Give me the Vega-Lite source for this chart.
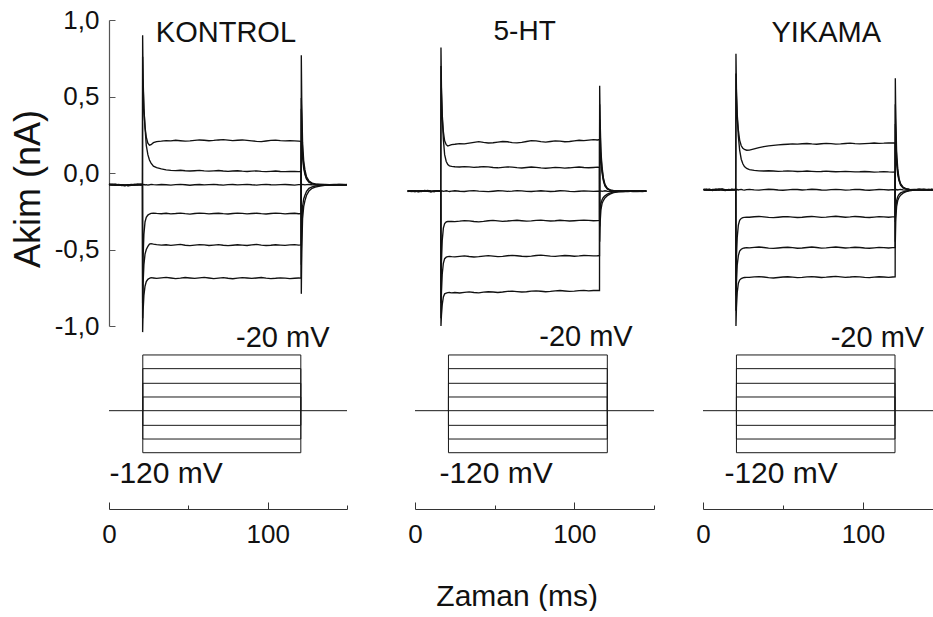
{
  "$schema": "https://vega.github.io/schema/vega-lite/v6.json",
  "background": "white",
  "padding": {"left": 10, "top": 7, "right": 0, "bottom": 0},
  "config": {
    "font": "Liberation Sans",
    "view": {"stroke": null},
    "axis": {"grid": false, "domainColor": "#333", "tickColor": "#333", "domainWidth": 1, "tickWidth": 1, "labelColor": "#111", "titleColor": "#111", "labelFont": "Liberation Sans", "titleFont": "Liberation Sans", "titleFontWeight": "normal", "labelOverlap": false, "labelFlush": false, "labelBound": false},
    "text": {"font": "Liberation Sans", "color": "#111"}
  },
  "datasets": {
    "traces": [
      {"p":"K","t":0,"a":-0.073,"b":-0.078,"c":-0.075,"d":-0.072,"e":-0.079,"f":-0.076},
      {"p":"K","t":2,"a":-0.077,"b":-0.074,"c":-0.079,"d":-0.076,"e":-0.073,"f":-0.078},
      {"p":"K","t":4,"a":-0.08,"b":-0.077,"c":-0.076,"d":-0.079,"e":-0.075,"f":-0.073},
      {"p":"K","t":6,"a":-0.076,"b":-0.081,"c":-0.078,"d":-0.074,"e":-0.077,"f":-0.08},
      {"p":"K","t":8,"a":-0.079,"b":-0.076,"c":-0.082,"d":-0.078,"e":-0.08,"f":-0.077},
      {"p":"K","t":10,"a":-0.083,"b":-0.079,"c":-0.08,"d":-0.082,"e":-0.078,"f":-0.081},
      {"p":"K","t":12,"a":-0.078,"b":-0.082,"c":-0.077,"d":-0.079,"e":-0.083,"f":-0.08},
      {"p":"K","t":14,"a":-0.075,"b":-0.078,"c":-0.079,"d":-0.076,"e":-0.08,"f":-0.077},
      {"p":"K","t":16,"a":-0.077,"b":-0.074,"c":-0.076,"d":-0.079,"e":-0.075,"f":-0.078},
      {"p":"K","t":18,"a":-0.074,"b":-0.077,"c":-0.073,"d":-0.075,"e":-0.078,"f":-0.076},
      {"p":"K","t":20,"a":-0.076,"b":-0.073,"c":-0.077,"d":-0.074,"e":-0.075,"f":-0.079},
      {"p":"K","t":21.1,"a":-0.075,"b":-0.076,"c":-0.075,"d":-0.077,"e":-0.074,"f":-0.076},
      {"p":"K","t":21.2,"a":0.9,"b":0.76,"c":-0.076,"d":-0.85,"e":-0.95,"f":-1.04},
      {"p":"K","t":21.5,"a":0.62,"b":0.58,"c":-0.077,"d":-0.55,"e":-0.72,"f":-0.9},
      {"p":"K","t":22,"a":0.42,"b":0.42,"c":-0.075,"d":-0.4,"e":-0.6,"f":-0.8},
      {"p":"K","t":22.7,"a":0.3,"b":0.3,"c":-0.078,"d":-0.32,"e":-0.53,"f":-0.74},
      {"p":"K","t":23.5,"a":0.235,"b":0.18,"c":-0.076,"d":-0.29,"e":-0.5,"f":-0.71},
      {"p":"K","t":24.5,"a":0.195,"b":0.12,"c":-0.079,"d":-0.275,"e":-0.48,"f":-0.695},
      {"p":"K","t":25.5,"a":0.182,"b":0.085,"c":-0.077,"d":-0.268,"e":-0.465,"f":-0.688},
      {"p":"K","t":26.5,"a":0.185,"b":0.065,"c":-0.074,"d":-0.264,"e":-0.462,"f":-0.684},
      {"p":"K","t":28,"a":0.198,"b":0.045,"c":-0.076,"d":-0.262,"e":-0.465,"f":-0.686},
      {"p":"K","t":30,"a":0.205,"b":0.035,"c":-0.078,"d":-0.264,"e":-0.468,"f":-0.689},
      {"p":"K","t":33,"a":0.208,"b":0.027,"c":-0.075,"d":-0.266,"e":-0.471,"f":-0.685},
      {"p":"K","t":36,"a":0.212,"b":0.02,"c":-0.077,"d":-0.263,"e":-0.469,"f":-0.682},
      {"p":"K","t":39,"a":0.21,"b":0.017,"c":-0.079,"d":-0.267,"e":-0.473,"f":-0.686},
      {"p":"K","t":42,"a":0.214,"b":0.016,"c":-0.076,"d":-0.265,"e":-0.47,"f":-0.69},
      {"p":"K","t":45,"a":0.211,"b":0.018,"c":-0.074,"d":-0.262,"e":-0.467,"f":-0.687},
      {"p":"K","t":48,"a":0.208,"b":0.015,"c":-0.077,"d":-0.266,"e":-0.472,"f":-0.683},
      {"p":"K","t":51,"a":0.21,"b":0.013,"c":-0.08,"d":-0.269,"e":-0.475,"f":-0.686},
      {"p":"K","t":54,"a":0.213,"b":0.015,"c":-0.077,"d":-0.265,"e":-0.471,"f":-0.689},
      {"p":"K","t":57,"a":0.216,"b":0.017,"c":-0.075,"d":-0.262,"e":-0.468,"f":-0.685},
      {"p":"K","t":60,"a":0.214,"b":0.014,"c":-0.078,"d":-0.264,"e":-0.47,"f":-0.682},
      {"p":"K","t":63,"a":0.211,"b":0.012,"c":-0.076,"d":-0.267,"e":-0.474,"f":-0.686},
      {"p":"K","t":66,"a":0.213,"b":0.014,"c":-0.074,"d":-0.265,"e":-0.471,"f":-0.69},
      {"p":"K","t":69,"a":0.216,"b":0.016,"c":-0.077,"d":-0.263,"e":-0.468,"f":-0.687},
      {"p":"K","t":72,"a":0.218,"b":0.013,"c":-0.079,"d":-0.266,"e":-0.472,"f":-0.684},
      {"p":"K","t":75,"a":0.215,"b":0.011,"c":-0.076,"d":-0.268,"e":-0.475,"f":-0.688},
      {"p":"K","t":78,"a":0.212,"b":0.013,"c":-0.075,"d":-0.265,"e":-0.472,"f":-0.691},
      {"p":"K","t":81,"a":0.214,"b":0.015,"c":-0.078,"d":-0.262,"e":-0.469,"f":-0.687},
      {"p":"K","t":84,"a":0.216,"b":0.012,"c":-0.076,"d":-0.264,"e":-0.471,"f":-0.684},
      {"p":"K","t":87,"a":0.213,"b":0.01,"c":-0.074,"d":-0.267,"e":-0.474,"f":-0.686},
      {"p":"K","t":90,"a":0.21,"b":0.012,"c":-0.077,"d":-0.265,"e":-0.47,"f":-0.689},
      {"p":"K","t":93,"a":0.207,"b":0.014,"c":-0.079,"d":-0.263,"e":-0.467,"f":-0.686},
      {"p":"K","t":96,"a":0.205,"b":0.011,"c":-0.076,"d":-0.266,"e":-0.471,"f":-0.683},
      {"p":"K","t":99,"a":0.209,"b":0.009,"c":-0.074,"d":-0.268,"e":-0.474,"f":-0.687},
      {"p":"K","t":102,"a":0.213,"b":0.011,"c":-0.077,"d":-0.265,"e":-0.472,"f":-0.69},
      {"p":"K","t":105,"a":0.215,"b":0.013,"c":-0.078,"d":-0.262,"e":-0.469,"f":-0.688},
      {"p":"K","t":108,"a":0.212,"b":0.01,"c":-0.076,"d":-0.264,"e":-0.471,"f":-0.685},
      {"p":"K","t":111,"a":0.21,"b":0.009,"c":-0.075,"d":-0.267,"e":-0.473,"f":-0.687},
      {"p":"K","t":114,"a":0.212,"b":0.011,"c":-0.077,"d":-0.265,"e":-0.47,"f":-0.69},
      {"p":"K","t":117,"a":0.21,"b":0.01,"c":-0.079,"d":-0.263,"e":-0.468,"f":-0.688},
      {"p":"K","t":119.5,"a":0.208,"b":0.009,"c":-0.076,"d":-0.266,"e":-0.471,"f":-0.686},
      {"p":"K","t":121.1,"a":0.207,"b":0.01,"c":-0.076,"d":-0.265,"e":-0.47,"f":-0.687},
      {"p":"K","t":121.2,"a":-0.79,"b":-0.6,"c":-0.076,"d":0.42,"e":0.49,"f":0.77},
      {"p":"K","t":121.5,"a":-0.5,"b":-0.36,"c":-0.077,"d":0.22,"e":0.3,"f":0.45},
      {"p":"K","t":122,"a":-0.3,"b":-0.22,"c":-0.075,"d":0.1,"e":0.14,"f":0.2},
      {"p":"K","t":122.7,"a":-0.22,"b":-0.17,"c":-0.076,"d":0.03,"e":0.05,"f":0.08},
      {"p":"K","t":123.5,"a":-0.18,"b":-0.145,"c":-0.078,"d":-0.01,"e":0,"f":0.02},
      {"p":"K","t":124.5,"a":-0.145,"b":-0.12,"c":-0.076,"d":-0.04,"e":-0.035,"f":-0.025},
      {"p":"K","t":126,"a":-0.118,"b":-0.1,"c":-0.075,"d":-0.06,"e":-0.057,"f":-0.052},
      {"p":"K","t":128,"a":-0.1,"b":-0.09,"c":-0.077,"d":-0.07,"e":-0.068,"f":-0.066},
      {"p":"K","t":130,"a":-0.092,"b":-0.085,"c":-0.078,"d":-0.074,"e":-0.073,"f":-0.072},
      {"p":"K","t":133,"a":-0.085,"b":-0.081,"c":-0.076,"d":-0.076,"e":-0.075,"f":-0.074},
      {"p":"K","t":136,"a":-0.081,"b":-0.078,"c":-0.075,"d":-0.078,"e":-0.077,"f":-0.076},
      {"p":"K","t":139,"a":-0.079,"b":-0.077,"c":-0.077,"d":-0.076,"e":-0.079,"f":-0.078},
      {"p":"K","t":142,"a":-0.077,"b":-0.079,"c":-0.078,"d":-0.074,"e":-0.076,"f":-0.08},
      {"p":"K","t":145,"a":-0.078,"b":-0.076,"c":-0.075,"d":-0.077,"e":-0.074,"f":-0.077},
      {"p":"K","t":148,"a":-0.076,"b":-0.078,"c":-0.077,"d":-0.079,"e":-0.077,"f":-0.075},
      {"p":"K","t":150,"a":-0.077,"b":-0.075,"c":-0.076,"d":-0.076,"e":-0.078,"f":-0.077},

      {"p":"H","t":-4.6,"a":-0.116,"b":-0.12,"c":-0.118,"d":-0.115,"e":-0.121,"f":-0.117},
      {"p":"H","t":-2,"a":-0.119,"b":-0.116,"c":-0.121,"d":-0.118,"e":-0.115,"f":-0.12},
      {"p":"H","t":0,"a":-0.122,"b":-0.119,"c":-0.117,"d":-0.121,"e":-0.118,"f":-0.115},
      {"p":"H","t":2,"a":-0.118,"b":-0.123,"c":-0.12,"d":-0.116,"e":-0.119,"f":-0.122},
      {"p":"H","t":4,"a":-0.115,"b":-0.118,"c":-0.116,"d":-0.119,"e":-0.122,"f":-0.118},
      {"p":"H","t":6,"a":-0.117,"b":-0.114,"c":-0.119,"d":-0.116,"e":-0.117,"f":-0.12},
      {"p":"H","t":8,"a":-0.12,"b":-0.117,"c":-0.115,"d":-0.118,"e":-0.114,"f":-0.116},
      {"p":"H","t":10,"a":-0.123,"b":-0.12,"c":-0.118,"d":-0.121,"e":-0.119,"f":-0.122},
      {"p":"H","t":12,"a":-0.119,"b":-0.122,"c":-0.121,"d":-0.117,"e":-0.12,"f":-0.118},
      {"p":"H","t":14,"a":-0.116,"b":-0.118,"c":-0.117,"d":-0.119,"e":-0.116,"f":-0.119},
      {"p":"H","t":16.2,"a":-0.118,"b":-0.117,"c":-0.119,"d":-0.116,"e":-0.118,"f":-0.117},
      {"p":"H","t":16.3,"a":0.82,"b":0.7,"c":-0.118,"d":-0.85,"e":-0.95,"f":-1.0},
      {"p":"H","t":16.6,"a":0.56,"b":0.52,"c":-0.119,"d":-0.58,"e":-0.78,"f":-0.93},
      {"p":"H","t":17.1,"a":0.38,"b":0.36,"c":-0.117,"d":-0.44,"e":-0.66,"f":-0.86},
      {"p":"H","t":17.8,"a":0.27,"b":0.22,"c":-0.12,"d":-0.36,"e":-0.59,"f":-0.81},
      {"p":"H","t":18.6,"a":0.21,"b":0.12,"c":-0.118,"d":-0.33,"e":-0.56,"f":-0.79},
      {"p":"H","t":19.6,"a":0.185,"b":0.075,"c":-0.116,"d":-0.32,"e":-0.55,"f":-0.785},
      {"p":"H","t":20.6,"a":0.176,"b":0.055,"c":-0.119,"d":-0.317,"e":-0.547,"f":-0.782},
      {"p":"H","t":21.6,"a":0.18,"b":0.047,"c":-0.121,"d":-0.316,"e":-0.545,"f":-0.781},
      {"p":"H","t":23,"a":0.186,"b":0.043,"c":-0.118,"d":-0.317,"e":-0.547,"f":-0.783},
      {"p":"H","t":25,"a":0.188,"b":0.041,"c":-0.116,"d":-0.318,"e":-0.548,"f":-0.781},
      {"p":"H","t":28,"a":0.192,"b":0.039,"c":-0.119,"d":-0.315,"e":-0.545,"f":-0.784},
      {"p":"H","t":31,"a":0.19,"b":0.042,"c":-0.121,"d":-0.311,"e":-0.542,"f":-0.78},
      {"p":"H","t":34,"a":0.195,"b":0.04,"c":-0.117,"d":-0.313,"e":-0.546,"f":-0.777},
      {"p":"H","t":37,"a":0.2,"b":0.037,"c":-0.115,"d":-0.317,"e":-0.549,"f":-0.781},
      {"p":"H","t":40,"a":0.205,"b":0.039,"c":-0.118,"d":-0.319,"e":-0.547,"f":-0.783},
      {"p":"H","t":43,"a":0.2,"b":0.042,"c":-0.12,"d":-0.316,"e":-0.543,"f":-0.779},
      {"p":"H","t":46,"a":0.196,"b":0.04,"c":-0.122,"d":-0.312,"e":-0.54,"f":-0.776},
      {"p":"H","t":49,"a":0.198,"b":0.036,"c":-0.119,"d":-0.31,"e":-0.543,"f":-0.778},
      {"p":"H","t":52,"a":0.202,"b":0.034,"c":-0.116,"d":-0.313,"e":-0.547,"f":-0.781},
      {"p":"H","t":55,"a":0.206,"b":0.037,"c":-0.117,"d":-0.316,"e":-0.545,"f":-0.778},
      {"p":"H","t":58,"a":0.204,"b":0.04,"c":-0.12,"d":-0.314,"e":-0.541,"f":-0.774},
      {"p":"H","t":61,"a":0.199,"b":0.038,"c":-0.118,"d":-0.311,"e":-0.538,"f":-0.772},
      {"p":"H","t":64,"a":0.197,"b":0.035,"c":-0.115,"d":-0.309,"e":-0.541,"f":-0.775},
      {"p":"H","t":67,"a":0.2,"b":0.033,"c":-0.117,"d":-0.312,"e":-0.544,"f":-0.778},
      {"p":"H","t":70,"a":0.206,"b":0.036,"c":-0.12,"d":-0.315,"e":-0.546,"f":-0.776},
      {"p":"H","t":73,"a":0.212,"b":0.039,"c":-0.121,"d":-0.313,"e":-0.543,"f":-0.772},
      {"p":"H","t":76,"a":0.21,"b":0.037,"c":-0.118,"d":-0.31,"e":-0.539,"f":-0.77},
      {"p":"H","t":79,"a":0.205,"b":0.033,"c":-0.116,"d":-0.308,"e":-0.537,"f":-0.773},
      {"p":"H","t":82,"a":0.202,"b":0.031,"c":-0.118,"d":-0.311,"e":-0.54,"f":-0.776},
      {"p":"H","t":85,"a":0.206,"b":0.034,"c":-0.121,"d":-0.314,"e":-0.543,"f":-0.774},
      {"p":"H","t":88,"a":0.21,"b":0.037,"c":-0.119,"d":-0.312,"e":-0.545,"f":-0.77},
      {"p":"H","t":91,"a":0.208,"b":0.035,"c":-0.116,"d":-0.309,"e":-0.542,"f":-0.768},
      {"p":"H","t":94,"a":0.204,"b":0.032,"c":-0.117,"d":-0.311,"e":-0.539,"f":-0.771},
      {"p":"H","t":97,"a":0.206,"b":0.034,"c":-0.12,"d":-0.314,"e":-0.541,"f":-0.774},
      {"p":"H","t":100,"a":0.21,"b":0.037,"c":-0.122,"d":-0.312,"e":-0.544,"f":-0.772},
      {"p":"H","t":103,"a":0.214,"b":0.039,"c":-0.119,"d":-0.31,"e":-0.542,"f":-0.769},
      {"p":"H","t":106,"a":0.212,"b":0.036,"c":-0.117,"d":-0.308,"e":-0.539,"f":-0.767},
      {"p":"H","t":109,"a":0.215,"b":0.034,"c":-0.118,"d":-0.31,"e":-0.54,"f":-0.77},
      {"p":"H","t":112,"a":0.218,"b":0.036,"c":-0.12,"d":-0.312,"e":-0.542,"f":-0.768},
      {"p":"H","t":114.5,"a":0.216,"b":0.038,"c":-0.118,"d":-0.311,"e":-0.541,"f":-0.767},
      {"p":"H","t":115.8,"a":0.218,"b":0.037,"c":-0.119,"d":-0.31,"e":-0.54,"f":-0.768},
      {"p":"H","t":115.9,"a":-0.45,"b":-0.35,"c":-0.118,"d":0.35,"e":0.45,"f":0.57},
      {"p":"H","t":116.2,"a":-0.32,"b":-0.26,"c":-0.119,"d":0.2,"e":0.27,"f":0.34},
      {"p":"H","t":116.7,"a":-0.24,"b":-0.2,"c":-0.117,"d":0.07,"e":0.11,"f":0.14},
      {"p":"H","t":117.4,"a":-0.2,"b":-0.175,"c":-0.12,"d":0,"e":0.02,"f":0.04},
      {"p":"H","t":118.2,"a":-0.18,"b":-0.16,"c":-0.118,"d":-0.05,"e":-0.04,"f":-0.03},
      {"p":"H","t":119.2,"a":-0.163,"b":-0.148,"c":-0.116,"d":-0.085,"e":-0.08,"f":-0.075},
      {"p":"H","t":120.7,"a":-0.148,"b":-0.138,"c":-0.119,"d":-0.105,"e":-0.102,"f":-0.1},
      {"p":"H","t":122.7,"a":-0.136,"b":-0.13,"c":-0.121,"d":-0.114,"e":-0.113,"f":-0.112},
      {"p":"H","t":124.7,"a":-0.128,"b":-0.124,"c":-0.118,"d":-0.117,"e":-0.116,"f":-0.116},
      {"p":"H","t":127.7,"a":-0.123,"b":-0.121,"c":-0.116,"d":-0.119,"e":-0.118,"f":-0.117},
      {"p":"H","t":130.7,"a":-0.12,"b":-0.119,"c":-0.118,"d":-0.121,"e":-0.117,"f":-0.119},
      {"p":"H","t":133.7,"a":-0.118,"b":-0.121,"c":-0.12,"d":-0.118,"e":-0.115,"f":-0.12},
      {"p":"H","t":136.7,"a":-0.121,"b":-0.118,"c":-0.117,"d":-0.116,"e":-0.119,"f":-0.117},
      {"p":"H","t":139.7,"a":-0.119,"b":-0.116,"c":-0.119,"d":-0.12,"e":-0.121,"f":-0.115},
      {"p":"H","t":142.7,"a":-0.116,"b":-0.12,"c":-0.121,"d":-0.117,"e":-0.118,"f":-0.118},
      {"p":"H","t":145.2,"a":-0.118,"b":-0.117,"c":-0.118,"d":-0.119,"e":-0.116,"f":-0.12},

      {"p":"Y","t":0.4,"a":-0.107,"b":-0.111,"c":-0.109,"d":-0.106,"e":-0.112,"f":-0.108},
      {"p":"Y","t":2,"a":-0.11,"b":-0.107,"c":-0.112,"d":-0.109,"e":-0.106,"f":-0.111},
      {"p":"Y","t":4,"a":-0.113,"b":-0.11,"c":-0.108,"d":-0.112,"e":-0.109,"f":-0.106},
      {"p":"Y","t":6,"a":-0.109,"b":-0.114,"c":-0.111,"d":-0.107,"e":-0.11,"f":-0.113},
      {"p":"Y","t":8,"a":-0.106,"b":-0.109,"c":-0.107,"d":-0.11,"e":-0.113,"f":-0.109},
      {"p":"Y","t":10,"a":-0.108,"b":-0.105,"c":-0.11,"d":-0.107,"e":-0.108,"f":-0.111},
      {"p":"Y","t":12,"a":-0.111,"b":-0.108,"c":-0.106,"d":-0.109,"e":-0.105,"f":-0.107},
      {"p":"Y","t":14,"a":-0.114,"b":-0.111,"c":-0.109,"d":-0.112,"e":-0.11,"f":-0.113},
      {"p":"Y","t":16,"a":-0.11,"b":-0.113,"c":-0.112,"d":-0.108,"e":-0.111,"f":-0.109},
      {"p":"Y","t":18,"a":-0.107,"b":-0.109,"c":-0.108,"d":-0.11,"e":-0.107,"f":-0.11},
      {"p":"Y","t":20.5,"a":-0.109,"b":-0.108,"c":-0.11,"d":-0.107,"e":-0.109,"f":-0.108},
      {"p":"Y","t":20.6,"a":0.78,"b":0.65,"c":-0.109,"d":-0.8,"e":-0.9,"f":-1.0},
      {"p":"Y","t":20.9,"a":0.55,"b":0.5,"c":-0.11,"d":-0.55,"e":-0.72,"f":-0.88},
      {"p":"Y","t":21.4,"a":0.38,"b":0.36,"c":-0.108,"d":-0.42,"e":-0.6,"f":-0.78},
      {"p":"Y","t":22.1,"a":0.28,"b":0.24,"c":-0.111,"d":-0.34,"e":-0.54,"f":-0.72},
      {"p":"Y","t":22.9,"a":0.215,"b":0.15,"c":-0.109,"d":-0.31,"e":-0.51,"f":-0.7},
      {"p":"Y","t":23.9,"a":0.178,"b":0.09,"c":-0.107,"d":-0.297,"e":-0.498,"f":-0.69},
      {"p":"Y","t":24.9,"a":0.162,"b":0.06,"c":-0.11,"d":-0.292,"e":-0.493,"f":-0.685},
      {"p":"Y","t":25.9,"a":0.154,"b":0.042,"c":-0.112,"d":-0.29,"e":-0.49,"f":-0.683},
      {"p":"Y","t":27.3,"a":0.149,"b":0.03,"c":-0.109,"d":-0.289,"e":-0.488,"f":-0.682},
      {"p":"Y","t":29,"a":0.15,"b":0.022,"c":-0.107,"d":-0.289,"e":-0.489,"f":-0.682},
      {"p":"Y","t":32,"a":0.158,"b":0.017,"c":-0.11,"d":-0.286,"e":-0.486,"f":-0.679},
      {"p":"Y","t":35,"a":0.166,"b":0.014,"c":-0.112,"d":-0.284,"e":-0.484,"f":-0.677},
      {"p":"Y","t":38,"a":0.172,"b":0.013,"c":-0.109,"d":-0.287,"e":-0.487,"f":-0.68},
      {"p":"Y","t":41,"a":0.177,"b":0.015,"c":-0.106,"d":-0.29,"e":-0.491,"f":-0.684},
      {"p":"Y","t":44,"a":0.181,"b":0.013,"c":-0.108,"d":-0.292,"e":-0.493,"f":-0.686},
      {"p":"Y","t":47,"a":0.184,"b":0.011,"c":-0.111,"d":-0.289,"e":-0.49,"f":-0.683},
      {"p":"Y","t":50,"a":0.186,"b":0.012,"c":-0.113,"d":-0.286,"e":-0.487,"f":-0.68},
      {"p":"Y","t":53,"a":0.188,"b":0.014,"c":-0.11,"d":-0.285,"e":-0.485,"f":-0.678},
      {"p":"Y","t":56,"a":0.19,"b":0.012,"c":-0.107,"d":-0.288,"e":-0.488,"f":-0.681},
      {"p":"Y","t":59,"a":0.189,"b":0.01,"c":-0.108,"d":-0.291,"e":-0.492,"f":-0.684},
      {"p":"Y","t":62,"a":0.191,"b":0.011,"c":-0.111,"d":-0.289,"e":-0.49,"f":-0.682},
      {"p":"Y","t":65,"a":0.193,"b":0.013,"c":-0.109,"d":-0.286,"e":-0.487,"f":-0.679},
      {"p":"Y","t":68,"a":0.19,"b":0.011,"c":-0.106,"d":-0.284,"e":-0.484,"f":-0.677},
      {"p":"Y","t":71,"a":0.188,"b":0.009,"c":-0.108,"d":-0.287,"e":-0.487,"f":-0.68},
      {"p":"Y","t":74,"a":0.191,"b":0.01,"c":-0.111,"d":-0.29,"e":-0.491,"f":-0.683},
      {"p":"Y","t":77,"a":0.194,"b":0.012,"c":-0.112,"d":-0.288,"e":-0.489,"f":-0.681},
      {"p":"Y","t":80,"a":0.192,"b":0.01,"c":-0.109,"d":-0.285,"e":-0.486,"f":-0.678},
      {"p":"Y","t":83,"a":0.189,"b":0.008,"c":-0.107,"d":-0.283,"e":-0.484,"f":-0.676},
      {"p":"Y","t":86,"a":0.19,"b":0.009,"c":-0.109,"d":-0.286,"e":-0.487,"f":-0.679},
      {"p":"Y","t":89,"a":0.193,"b":0.011,"c":-0.112,"d":-0.289,"e":-0.49,"f":-0.682},
      {"p":"Y","t":92,"a":0.195,"b":0.009,"c":-0.11,"d":-0.287,"e":-0.488,"f":-0.68},
      {"p":"Y","t":95,"a":0.192,"b":0.007,"c":-0.107,"d":-0.284,"e":-0.485,"f":-0.677},
      {"p":"Y","t":98,"a":0.19,"b":0.008,"c":-0.108,"d":-0.286,"e":-0.487,"f":-0.679},
      {"p":"Y","t":101,"a":0.192,"b":0.01,"c":-0.111,"d":-0.289,"e":-0.49,"f":-0.682},
      {"p":"Y","t":104,"a":0.194,"b":0.008,"c":-0.113,"d":-0.291,"e":-0.492,"f":-0.684},
      {"p":"Y","t":107,"a":0.196,"b":0.006,"c":-0.11,"d":-0.288,"e":-0.489,"f":-0.681},
      {"p":"Y","t":110,"a":0.194,"b":0.007,"c":-0.108,"d":-0.285,"e":-0.486,"f":-0.678},
      {"p":"Y","t":113,"a":0.195,"b":0.009,"c":-0.109,"d":-0.287,"e":-0.488,"f":-0.68},
      {"p":"Y","t":116,"a":0.197,"b":0.007,"c":-0.111,"d":-0.289,"e":-0.49,"f":-0.682},
      {"p":"Y","t":118.5,"a":0.196,"b":0.006,"c":-0.109,"d":-0.287,"e":-0.488,"f":-0.68},
      {"p":"Y","t":120.1,"a":0.197,"b":0.007,"c":-0.11,"d":-0.286,"e":-0.487,"f":-0.679},
      {"p":"Y","t":120.2,"a":-0.45,"b":-0.32,"c":-0.109,"d":0.32,"e":0.45,"f":0.62},
      {"p":"Y","t":120.5,"a":-0.3,"b":-0.24,"c":-0.11,"d":0.18,"e":0.26,"f":0.36},
      {"p":"Y","t":121,"a":-0.22,"b":-0.18,"c":-0.108,"d":0.06,"e":0.1,"f":0.14},
      {"p":"Y","t":121.7,"a":-0.18,"b":-0.155,"c":-0.111,"d":-0.01,"e":0.01,"f":0.03},
      {"p":"Y","t":122.5,"a":-0.16,"b":-0.14,"c":-0.109,"d":-0.05,"e":-0.045,"f":-0.035},
      {"p":"Y","t":123.5,"a":-0.145,"b":-0.13,"c":-0.107,"d":-0.08,"e":-0.075,"f":-0.07},
      {"p":"Y","t":125,"a":-0.132,"b":-0.124,"c":-0.11,"d":-0.097,"e":-0.095,"f":-0.093},
      {"p":"Y","t":127,"a":-0.122,"b":-0.118,"c":-0.112,"d":-0.105,"e":-0.104,"f":-0.103},
      {"p":"Y","t":129,"a":-0.116,"b":-0.114,"c":-0.109,"d":-0.108,"e":-0.107,"f":-0.107},
      {"p":"Y","t":132,"a":-0.112,"b":-0.111,"c":-0.107,"d":-0.11,"e":-0.109,"f":-0.11},
      {"p":"Y","t":135,"a":-0.11,"b":-0.108,"c":-0.11,"d":-0.112,"e":-0.106,"f":-0.108},
      {"p":"Y","t":138,"a":-0.108,"b":-0.111,"c":-0.112,"d":-0.109,"e":-0.11,"f":-0.106},
      {"p":"Y","t":141,"a":-0.111,"b":-0.109,"c":-0.108,"d":-0.107,"e":-0.112,"f":-0.11},
      {"p":"Y","t":143,"a":-0.109,"b":-0.106,"c":-0.11,"d":-0.11,"e":-0.108,"f":-0.112},
      {"p":"Y","t":145,"a":-0.107,"b":-0.11,"c":-0.109,"d":-0.108,"e":-0.111,"f":-0.109}
    ],
    "protocol": [
      {"p":"K","t":0,"t2":150,"v":-77,"v2":-77},
      {"p":"K","t":21.3,"t2":120.9,"v":-20,"v2":-20},
      {"p":"K","t":21.3,"t2":120.9,"v":-34,"v2":-34},
      {"p":"K","t":21.3,"t2":120.9,"v":-49,"v2":-49},
      {"p":"K","t":21.3,"t2":120.9,"v":-63,"v2":-63},
      {"p":"K","t":21.3,"t2":120.9,"v":-92,"v2":-92},
      {"p":"K","t":21.3,"t2":120.9,"v":-106,"v2":-106},
      {"p":"K","t":21.3,"t2":120.9,"v":-120,"v2":-120},
      {"p":"K","t":21.3,"t2":21.3,"v":-77,"v2":-20},
      {"p":"K","t":21.3,"t2":21.3,"v":-77,"v2":-34},
      {"p":"K","t":21.3,"t2":21.3,"v":-77,"v2":-49},
      {"p":"K","t":21.3,"t2":21.3,"v":-77,"v2":-63},
      {"p":"K","t":21.3,"t2":21.3,"v":-77,"v2":-92},
      {"p":"K","t":21.3,"t2":21.3,"v":-77,"v2":-106},
      {"p":"K","t":21.3,"t2":21.3,"v":-77,"v2":-120},
      {"p":"K","t":120.9,"t2":120.9,"v":-77,"v2":-20},
      {"p":"K","t":120.9,"t2":120.9,"v":-77,"v2":-34},
      {"p":"K","t":120.9,"t2":120.9,"v":-77,"v2":-49},
      {"p":"K","t":120.9,"t2":120.9,"v":-77,"v2":-63},
      {"p":"K","t":120.9,"t2":120.9,"v":-77,"v2":-92},
      {"p":"K","t":120.9,"t2":120.9,"v":-77,"v2":-106},
      {"p":"K","t":120.9,"t2":120.9,"v":-77,"v2":-120},

      {"p":"H","t":0,"t2":150,"v":-77,"v2":-77},
      {"p":"H","t":21,"t2":120.7,"v":-20,"v2":-20},
      {"p":"H","t":21,"t2":120.7,"v":-34,"v2":-34},
      {"p":"H","t":21,"t2":120.7,"v":-49,"v2":-49},
      {"p":"H","t":21,"t2":120.7,"v":-63,"v2":-63},
      {"p":"H","t":21,"t2":120.7,"v":-92,"v2":-92},
      {"p":"H","t":21,"t2":120.7,"v":-106,"v2":-106},
      {"p":"H","t":21,"t2":120.7,"v":-120,"v2":-120},
      {"p":"H","t":21,"t2":21,"v":-77,"v2":-20},
      {"p":"H","t":21,"t2":21,"v":-77,"v2":-34},
      {"p":"H","t":21,"t2":21,"v":-77,"v2":-49},
      {"p":"H","t":21,"t2":21,"v":-77,"v2":-63},
      {"p":"H","t":21,"t2":21,"v":-77,"v2":-92},
      {"p":"H","t":21,"t2":21,"v":-77,"v2":-106},
      {"p":"H","t":21,"t2":21,"v":-77,"v2":-120},
      {"p":"H","t":120.7,"t2":120.7,"v":-77,"v2":-20},
      {"p":"H","t":120.7,"t2":120.7,"v":-77,"v2":-34},
      {"p":"H","t":120.7,"t2":120.7,"v":-77,"v2":-49},
      {"p":"H","t":120.7,"t2":120.7,"v":-77,"v2":-63},
      {"p":"H","t":120.7,"t2":120.7,"v":-77,"v2":-92},
      {"p":"H","t":120.7,"t2":120.7,"v":-77,"v2":-106},
      {"p":"H","t":120.7,"t2":120.7,"v":-77,"v2":-120},

      {"p":"Y","t":0,"t2":145,"v":-77,"v2":-77},
      {"p":"Y","t":20.9,"t2":120,"v":-20,"v2":-20},
      {"p":"Y","t":20.9,"t2":120,"v":-34,"v2":-34},
      {"p":"Y","t":20.9,"t2":120,"v":-49,"v2":-49},
      {"p":"Y","t":20.9,"t2":120,"v":-63,"v2":-63},
      {"p":"Y","t":20.9,"t2":120,"v":-92,"v2":-92},
      {"p":"Y","t":20.9,"t2":120,"v":-106,"v2":-106},
      {"p":"Y","t":20.9,"t2":120,"v":-120,"v2":-120},
      {"p":"Y","t":20.9,"t2":20.9,"v":-77,"v2":-20},
      {"p":"Y","t":20.9,"t2":20.9,"v":-77,"v2":-34},
      {"p":"Y","t":20.9,"t2":20.9,"v":-77,"v2":-49},
      {"p":"Y","t":20.9,"t2":20.9,"v":-77,"v2":-63},
      {"p":"Y","t":20.9,"t2":20.9,"v":-77,"v2":-92},
      {"p":"Y","t":20.9,"t2":20.9,"v":-77,"v2":-106},
      {"p":"Y","t":20.9,"t2":20.9,"v":-77,"v2":-120},
      {"p":"Y","t":120,"t2":120,"v":-77,"v2":-20},
      {"p":"Y","t":120,"t2":120,"v":-77,"v2":-34},
      {"p":"Y","t":120,"t2":120,"v":-77,"v2":-49},
      {"p":"Y","t":120,"t2":120,"v":-77,"v2":-63},
      {"p":"Y","t":120,"t2":120,"v":-77,"v2":-92},
      {"p":"Y","t":120,"t2":120,"v":-77,"v2":-106},
      {"p":"Y","t":120,"t2":120,"v":-77,"v2":-120}
    ]
  },
  "spacing": 40,
  "hconcat": [
    {
      "bounds": "flush",
      "spacing": 6,
      "vconcat": [
        {
          "width": 238,
          "height": 306,
          "layer": [
            {
              "data": {"name": "traces"},
              "transform": [{"filter": "datum.p === 'K'"}, {"fold": ["a", "b", "c", "d", "e", "f"], "as": ["trace", "i"]}],
              "mark": {"type": "line", "color": "#111", "strokeWidth": 1.35},
              "encoding": {
                "x": {"field": "t", "type": "quantitative", "scale": {"domain": [0, 150], "nice": false, "zero": false}, "axis": null},
                "y": {"field": "i", "type": "quantitative", "scale": {"domain": [-1, 1], "nice": false, "zero": false},
                  "axis": {"values": [-1, -0.75, -0.5, -0.25, 0, 0.25, 0.5, 0.75, 1],
                    "labelExpr": "datum.value % 0.5 === 0 ? (datum.value < 0 ? '-' : '') + replace(format(abs(datum.value), '.1f'), '.', ',') : ''",
                    "domain": true, "ticks": true, "domainColor": "#555", "tickColor": "#555", "domainWidth": 1.2,
                    "tickSize": -6, "labelPadding": 16, "labelFontSize": 26,
                    "title": "Akim (nA)", "titleFontSize": 36, "titleX": -81, "titleY": 168.5, "titleAngle": 270, "titleBaseline": "middle", "titleAlign": "center"}},
                "detail": {"field": "trace", "type": "nominal"}
              }
            },
            {
              "data": {"values": [{"label": "KONTROL"}]},
              "mark": {"type": "text", "fontSize": 29, "align": "center", "baseline": "alphabetic"},
              "encoding": {"x": {"datum": 73.7}, "y": {"datum": 0.856}, "text": {"field": "label"}}
            }
          ]
        },
        {
          "width": 238,
          "height": 177,
          "layer": [
            {
              "data": {"name": "protocol"},
              "transform": [{"filter": "datum.p === 'K'"}],
              "mark": {"type": "rule", "color": "#1a1a1a", "strokeWidth": 1},
              "encoding": {
                "x": {"field": "t", "type": "quantitative", "scale": {"domain": [0, 150], "nice": false, "zero": false},
                  "axis": {"values": [0, 50, 100, 150], "labelExpr": "datum.value % 100 === 0 ? datum.label : ''",
                    "tickSize": {"condition": {"test": "datum.value % 100 === 0", "value": -7}, "value": -4},
                    "labelPadding": 19, "labelFontSize": 26, "title": null}},
                "x2": {"field": "t2"},
                "y": {"field": "v", "type": "quantitative", "scale": {"domain": [-177.6, 3.5], "nice": false, "zero": false}, "axis": null},
                "y2": {"field": "v2"}
              }
            },
            {
              "data": {"values": [{"label": "-20 mV"}]},
              "mark": {"type": "text", "fontSize": 29, "align": "center", "baseline": "alphabetic"},
              "encoding": {"x": {"datum": 109.5}, "y": {"datum": -11.5}, "text": {"field": "label"}}
            },
            {
              "data": {"values": [{"label": "-120 mV"}]},
              "mark": {"type": "text", "fontSize": 30, "align": "center", "baseline": "alphabetic"},
              "encoding": {"x": {"datum": 36}, "y": {"datum": -151.3}, "text": {"field": "label"}}
            }
          ]
        }
      ]
    },
    {
      "bounds": "flush",
      "spacing": 6,
      "vconcat": [
        {
          "width": 239,
          "height": 306,
          "layer": [
            {
              "data": {"name": "traces"},
              "transform": [{"filter": "datum.p === 'H'"}, {"fold": ["a", "b", "c", "d", "e", "f"], "as": ["trace", "i"]}],
              "mark": {"type": "line", "color": "#111", "strokeWidth": 1.35},
              "encoding": {
                "x": {"field": "t", "type": "quantitative", "scale": {"domain": [0, 150], "nice": false, "zero": false}, "axis": null},
                "y": {"field": "i", "type": "quantitative", "scale": {"domain": [-1, 1], "nice": false, "zero": false},
                  "axis": {"values": [1], "labelExpr": "'.'", "labelColor": "rgba(0,0,0,0)", "labelFontSize": 26, "labelPadding": 17, "ticks": false, "domain": false, "title": null}},
                "detail": {"field": "trace", "type": "nominal"}
              }
            },
            {
              "data": {"values": [{"label": "5-HT"}]},
              "mark": {"type": "text", "fontSize": 28, "align": "center", "baseline": "alphabetic"},
              "encoding": {"x": {"datum": 68.8}, "y": {"datum": 0.867}, "text": {"field": "label"}}
            }
          ]
        },
        {
          "width": 239,
          "height": 177,
          "layer": [
            {
              "data": {"name": "protocol"},
              "transform": [{"filter": "datum.p === 'H'"}],
              "mark": {"type": "rule", "color": "#1a1a1a", "strokeWidth": 1},
              "encoding": {
                "x": {"field": "t", "type": "quantitative", "scale": {"domain": [0, 150], "nice": false, "zero": false},
                  "axis": {"values": [0, 50, 100, 150], "labelExpr": "datum.value % 100 === 0 ? datum.label : ''",
                    "tickSize": {"condition": {"test": "datum.value % 100 === 0", "value": -7}, "value": -4},
                    "labelPadding": 19, "labelFontSize": 26,
                    "title": "Zaman (ms)", "titleFontSize": 30, "titleX": 101.7, "titleY": 96, "titleBaseline": "alphabetic", "titleAlign": "center"}},
                "x2": {"field": "t2"},
                "y": {"field": "v", "type": "quantitative", "scale": {"domain": [-177.6, 3.5], "nice": false, "zero": false}, "axis": null},
                "y2": {"field": "v2"}
              }
            },
            {
              "data": {"values": [{"label": "-20 mV"}]},
              "mark": {"type": "text", "fontSize": 29, "align": "center", "baseline": "alphabetic"},
              "encoding": {"x": {"datum": 107.3}, "y": {"datum": -10.5}, "text": {"field": "label"}}
            },
            {
              "data": {"values": [{"label": "-120 mV"}]},
              "mark": {"type": "text", "fontSize": 30, "align": "center", "baseline": "alphabetic"},
              "encoding": {"x": {"datum": 50.9}, "y": {"datum": -150.7}, "text": {"field": "label"}}
            }
          ]
        }
      ]
    },
    {
      "bounds": "flush",
      "spacing": 6,
      "vconcat": [
        {
          "width": 232,
          "height": 306,
          "layer": [
            {
              "data": {"name": "traces"},
              "transform": [{"filter": "datum.p === 'Y'"}, {"fold": ["a", "b", "c", "d", "e", "f"], "as": ["trace", "i"]}],
              "mark": {"type": "line", "color": "#111", "strokeWidth": 1.35},
              "encoding": {
                "x": {"field": "t", "type": "quantitative", "scale": {"domain": [0, 145], "nice": false, "zero": false}, "axis": null},
                "y": {"field": "i", "type": "quantitative", "scale": {"domain": [-1, 1], "nice": false, "zero": false},
                  "axis": {"values": [1], "labelExpr": "'.'", "labelColor": "rgba(0,0,0,0)", "labelFontSize": 26, "labelPadding": 0, "ticks": false, "domain": false, "title": null}},
                "detail": {"field": "trace", "type": "nominal"}
              }
            },
            {
              "data": {"values": [{"label": "YIKAMA"}]},
              "mark": {"type": "text", "fontSize": 29, "align": "center", "baseline": "alphabetic"},
              "encoding": {"x": {"datum": 77}, "y": {"datum": 0.856}, "text": {"field": "label"}}
            }
          ]
        },
        {
          "width": 232,
          "height": 177,
          "layer": [
            {
              "data": {"name": "protocol"},
              "transform": [{"filter": "datum.p === 'Y'"}],
              "mark": {"type": "rule", "color": "#1a1a1a", "strokeWidth": 1},
              "encoding": {
                "x": {"field": "t", "type": "quantitative", "scale": {"domain": [0, 145], "nice": false, "zero": false},
                  "axis": {"values": [0, 50, 100], "labelExpr": "datum.value % 100 === 0 ? datum.label : ''",
                    "tickSize": {"condition": {"test": "datum.value % 100 === 0", "value": -7}, "value": -4},
                    "labelPadding": 19, "labelFontSize": 26, "title": null}},
                "x2": {"field": "t2"},
                "y": {"field": "v", "type": "quantitative", "scale": {"domain": [-177.6, 3.5], "nice": false, "zero": false}, "axis": null},
                "y2": {"field": "v2"}
              }
            },
            {
              "data": {"values": [{"label": "-20 mV"}]},
              "mark": {"type": "text", "fontSize": 29, "align": "center", "baseline": "alphabetic"},
              "encoding": {"x": {"datum": 109}, "y": {"datum": -11.5}, "text": {"field": "label"}}
            },
            {
              "data": {"values": [{"label": "-120 mV"}]},
              "mark": {"type": "text", "fontSize": 30, "align": "center", "baseline": "alphabetic"},
              "encoding": {"x": {"datum": 48.8}, "y": {"datum": -151.3}, "text": {"field": "label"}}
            }
          ]
        }
      ]
    }
  ]
}
